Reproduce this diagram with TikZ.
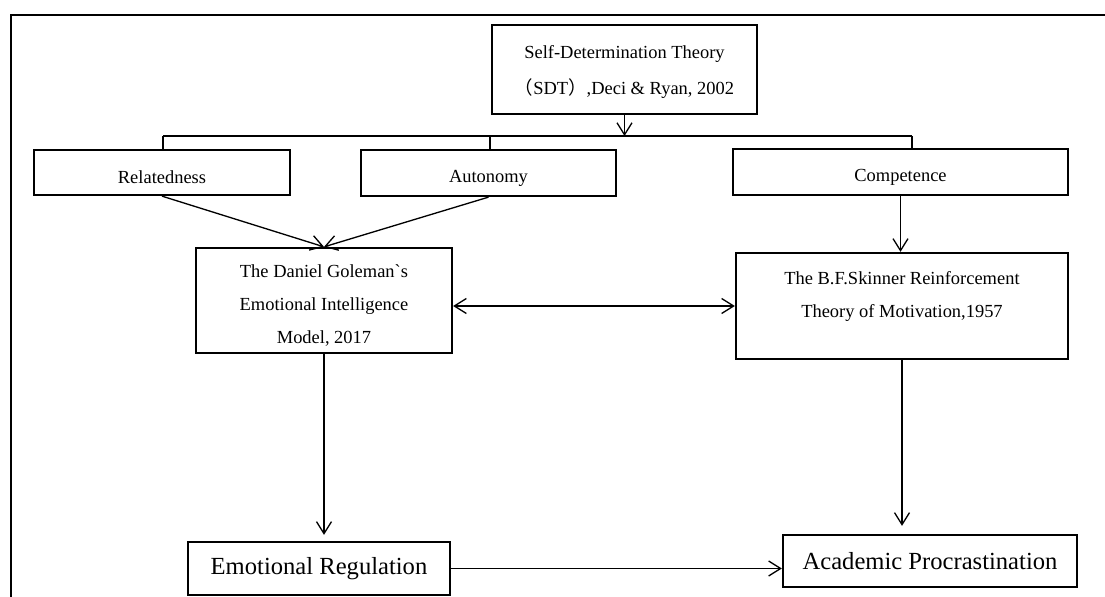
\documentclass[tikz,border=0pt]{standalone}
\usepackage{fontspec}
\setmainfont{Liberation Serif}
\newfontfamily\cjk{Noto Sans CJK SC}
\usetikzlibrary{arrows.meta,positioning,calc}
\newcommand{\topstrut}[1][13pt]{\rule{0pt}{#1}}
\tikzset{bx/.style={draw,line width=1.3pt,align=center,inner sep=2pt},
 low/.style={execute at begin node={\rule{0pt}{#1}}},
 b/.style={bx,font=\fontsize{10.5}{18.8}\selectfont,low=13pt},
 big/.style={bx,font=\fontsize{14}{17}\selectfont},
 wire/.style={line width=.75pt},arr/.style={wire,-{Straight Barb[length=2.4mm,width=3mm]}},
 darr/.style={wire,{Straight Barb[length=2.4mm,width=3mm]}-{Straight Barb[length=2.4mm,width=3mm]}},
 frm/.style={line width=1.1pt}}
\begin{document}
\begin{tikzpicture}[x=.2mm,y=-.2mm]
\useasboundingbox (0,0) rectangle (1105,597);
\coordinate (frT) at (1105,15);\coordinate (frC) at (11,15);\coordinate (frB) at (11,597);
\draw[frm] (frT)--(frC)--(frB);
% boxes
\node[b,minimum width=53mm,minimum height=17.8mm,font=\fontsize{10.5}{20.4}\selectfont] (sdt) at (624.5,69.5) {\topstrut[10.5pt]Self-Determination Theory\\{\cjk （}SDT{\cjk ）},Deci \& Ryan, 2002};
\node[b,minimum width=51.2mm,minimum height=9mm] (rel) at (162,172.5) {Relatedness};
\node[b,minimum width=51mm,minimum height=9.2mm] (aut) at (488.5,173) {Autonomy};
\node[b,minimum width=67mm,minimum height=9.2mm] (com) at (900.5,172) {Competence};
\node[b,minimum width=51.2mm,minimum height=21mm] (gol) at (324,300.5) {\topstrut The Daniel Goleman\textasciigrave s\\Emotional Intelligence\\Model, 2017};
\node[b,minimum width=66.4mm,minimum height=21.2mm] (ski) at (902,306) {\topstrut The B.F.Skinner Reinforcement\\Theory of Motivation,1957\\\mbox{}};
\node[big,minimum width=52.4mm,minimum height=10.6mm] (emo) at (319,568.5) {Emotional Regulation};
\node[big,minimum width=58.8mm,minimum height=10.4mm] (aca) at (930,561) {Academic Procrastination};
% bracket under SDT
\coordinate (brL) at (163,136);\coordinate (brM) at (490,136);\coordinate (brR) at (912,136);
\draw[wire] (brL)--(brR);
\draw[wire] (brL)--(brL |- rel.north);\draw[wire] (brM)--(brM |- aut.north);\draw[wire] (brR)--(brR |- com.north);
\draw[arr] (sdt.south)--(sdt.south |- brL);
% links
\draw[arr] (rel.south)--(gol.north);
\draw[arr] (aut.south)--(gol.north);
\draw[arr] (com.south)--(com.south |- ski.north);
\draw[darr] (ski.west -| gol.east)--(ski.west);
\draw[arr,shorten >=1.2mm] (gol.south)--(gol.south |- emo.north);
\draw[arr,shorten >=1.6mm] (ski.south)--(ski.south |- aca.north);
\draw[arr] (emo.east)--(emo.east -| aca.west);
\end{tikzpicture}
\end{document}
